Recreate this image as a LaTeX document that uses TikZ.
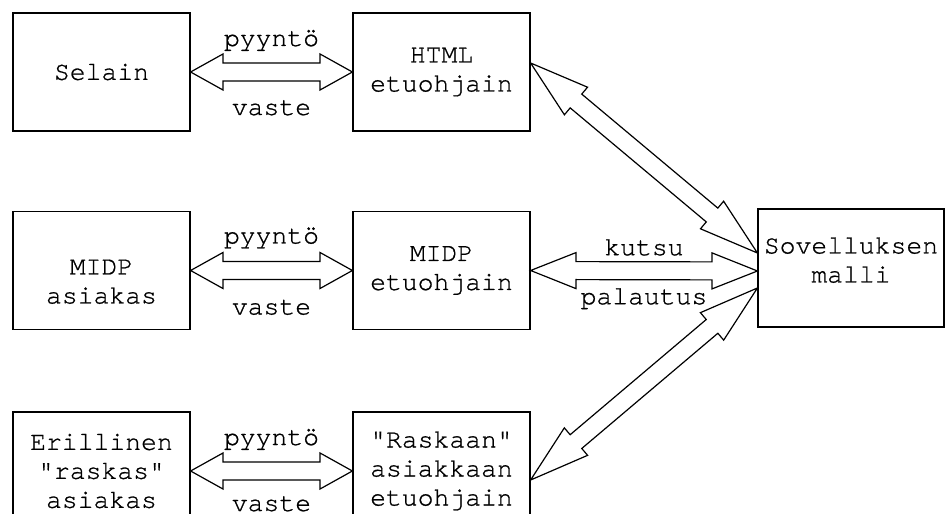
\documentclass[tikz,border=0pt]{standalone}
\usepackage{fontspec}
\setmonofont{TeX Gyre Cursor}[UprightFeatures={FakeBold=0.8}]
\usetikzlibrary{calc}

\newcommand{\blockarrow}[2]{%
    \draw[fill=white] #1
        -- ($#1!.2!#2!9pt!90:#2$)
        -- ($#1!.2!#2!4.5pt!90:#2$)
        -- ($#2!.2!#1!4.5pt!-90:#1$)
        -- ($#2!.2!#1!9pt!-90:#1$)
        -- #2
        -- ($#2!.2!#1!9pt!90:#1$)
        -- ($#2!.2!#1!4.5pt!90:#1$)
        -- ($#1!.2!#2!4.5pt!-90:#2$)
        -- ($#1!.2!#2!9pt!-90:#2$)
        -- cycle;}

\begin{document}
\begin{tikzpicture}[x=0.5pt,y=-0.5pt,line width=0.6pt,node distance=170pt,
    box/.style={draw,rectangle,minimum width=88.5pt,minimum height=59pt,inner sep=0pt,align=center,font=\ttfamily\fontsize{13.2pt}{14.5pt}\selectfont},
    lbl/.style={anchor=base,inner sep=0pt,font=\ttfamily\fontsize{13.2pt}{14.5pt}\selectfont}]

            \useasboundingbox (0,0) rectangle (952,523);
            \clip (0,0) rectangle (952,513);

            \node[box] (1) at (101.5,72) {Selain};
            \node[box] (2) [right of = 1] {HTML\\etuohjain};
            \node[box, text depth=0pt, text height=33pt] (3) [below of = 1, node distance=99.25pt] {MIDP\\asiakas};
            \node[box] (4) [right of = 3] {MIDP\\etuohjain};
            \node[box] (5) [below of = 3, node distance=100.25pt] {Erillinen\\"raskas"\\asiakas};
            \node[box] (6) [right of = 5] {"Raskaan"\\asiakkaan\\etuohjain};

            \node[box, minimum width=93pt, text depth=8pt] (7) [right of = 4, node distance=204.75pt, yshift=1.25pt] {Sovelluksen\\malli};

            \blockarrow{(1.east)}{(2.west)}
            \blockarrow{(3.east)}{(4.west)}
            \blockarrow{(5.east)}{(6.west)}

            \blockarrow{([yshift=4.5pt]2.east)}{([yshift=7.5pt]7.west)}
            \blockarrow{(4.east)}{([yshift=-1.5pt]7.west)}
            \blockarrow{([yshift=-4.5pt]6.east)}{([yshift=-10pt]7.west)}

            \node[lbl, yshift=13pt] (p1) at ($(1.east)!.5!(2.west)$) {pyyntö};
            \node[lbl, yshift=-21.5pt] (v1) at ($(1.east)!.5!(2.west)$) {vaste};
            \node[lbl, yshift=13.5pt] (p2) at ($(3.east)!.5!(4.west)$) {pyyntö};
            \node[lbl, yshift=-22pt] (v2) at ($(3.east)!.5!(4.west)$) {vaste};
            \node[lbl, yshift=13pt] (p3) at ($(5.east)!.5!(6.west)$) {pyyntö};
            \node[lbl, yshift=-20pt] (v3) at ($(5.east)!.5!(6.west)$) {vaste};

            \node[lbl, yshift=7pt] (k) at ($(4.east)!.5!(7.west)$) {kutsu};
            \node[lbl, yshift=-17.5pt] (pa) at ($(4.east)!.5!(7.west)$) {palautus};

            ;
\end{tikzpicture}
\end{document}
